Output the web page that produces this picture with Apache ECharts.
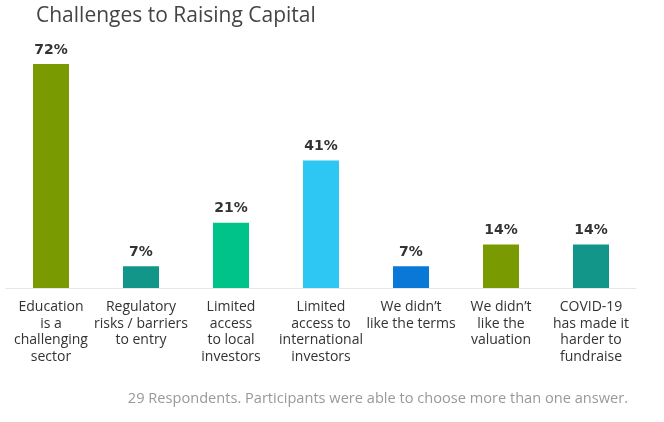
<!DOCTYPE html>
<html>
<head>
<meta charset="utf-8">
<script src="https://cdn.jsdelivr.net/npm/echarts@6/dist/echarts.min.js"></script>
<style>
html,body{margin:0;padding:0;background:#fff;}
#main{width:664px;height:422px;}
</style>
</head>
<body>
<div id="main"></div>
<script>
// chart data
var categories = [
  'Education\nis a\nchallenging\nsector',
  'Regulatory\nrisks / barriers\nto entry',
  'Limited\naccess\nto local\ninvestors',
  'Limited\naccess to\ninternational\ninvestors',
  'We didn\u2019t\nlike the terms',
  'We didn\u2019t\nlike the\nvaluation',
  'COVID-19\nhas made it\nharder to\nfundraise'
];
var values = [72, 7, 21, 41, 7, 14, 14];
var barColors = ['#7a9a01', '#13968a', '#00c389', '#2ec6f2', '#0a78d6', '#7a9a01', '#13968a'];

var myChart = echarts.init(document.getElementById('main'));

var option = {
  animation: false,
  title: {
    text: 'Challenges to Raising Capital',
    left: 31,
    top: 1,
    textStyle: { fontFamily: 'Open Sans', fontSize: 21, fontWeight: 'normal', color: '#444' }
  },
  graphic: [{
    type: 'text',
    right: 36,
    top: 391,
    style: {
      text: '29 Respondents. Participants were able to choose more than one answer.',
      font: '14.6px "Open Sans"',
      fill: '#999'
    }
  }],
  grid: { left: 6, right: 28, top: 64, bottom: 134 },
  xAxis: {
    type: 'category',
    data: categories,
    axisTick: { show: false },
    axisLine: { lineStyle: { color: '#e6e6e6', width: 1 } },
    axisLabel: {
      interval: 0,
      margin: 11,
      color: '#333',
      fontFamily: 'Open Sans',
      fontSize: 14,
      lineHeight: 16.5
    }
  },
  yAxis: {
    type: 'value',
    min: 0,
    max: 72,
    show: false,
    splitLine: { show: false }
  },
  series: [{
    type: 'bar',
    barWidth: 36,
    data: values.map(function (v, i) {
      return { value: v, itemStyle: { color: barColors[i] } };
    }),
    label: {
      show: true,
      position: 'top',
      distance: 7,
      formatter: '{c}%',
      color: '#333',
      fontFamily: 'DejaVu Sans',
      fontWeight: 'bold',
      fontSize: 14
    }
  }]
};
myChart.setOption(option);
</script>
</body>
</html>
